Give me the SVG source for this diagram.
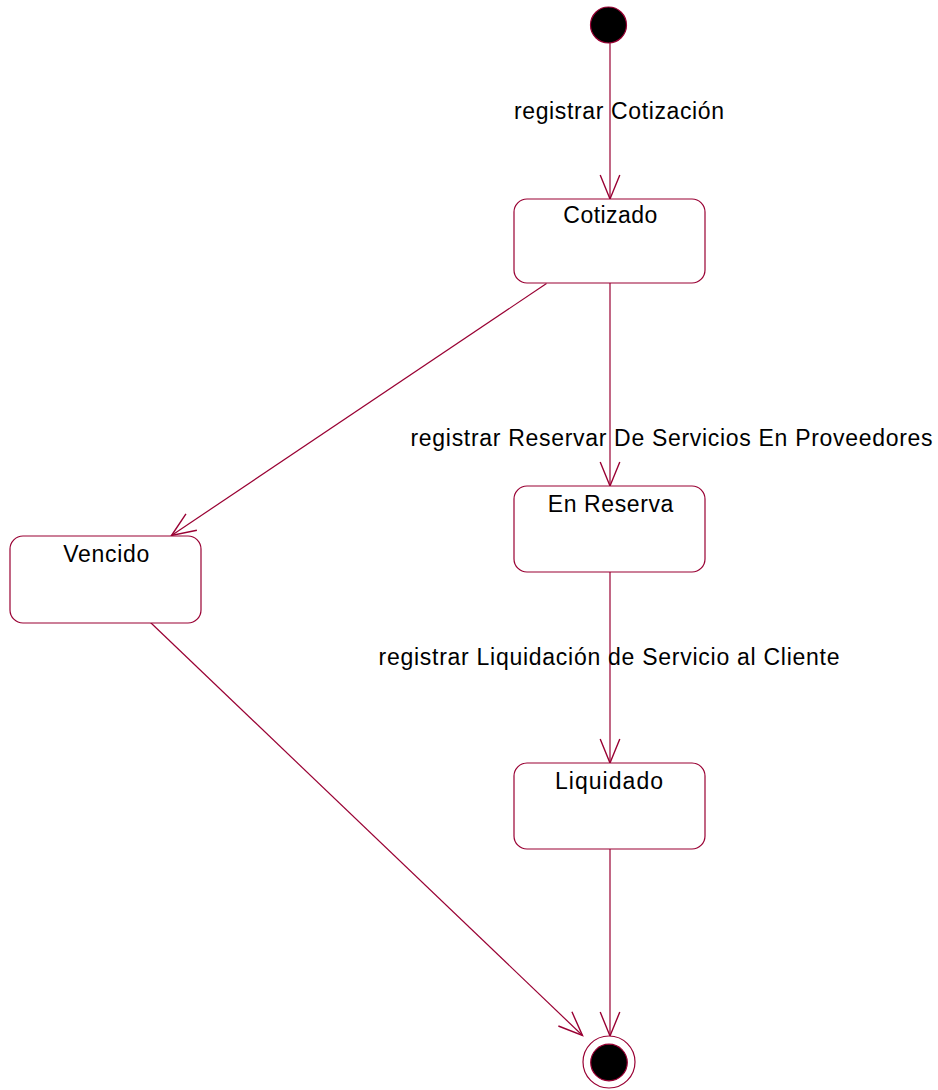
<svg xmlns="http://www.w3.org/2000/svg" width="938" height="1090" viewBox="0 0 938 1090">
<style>
.st{fill:#ffffff;stroke:#990033;stroke-width:1.2}
.ln{fill:none;stroke:#990033;stroke-width:1.2}
.t{font-family:"Liberation Sans",Arial,sans-serif;font-size:23px;fill:#000000}
</style>
<defs>
<marker id="open" markerUnits="userSpaceOnUse" orient="auto" markerWidth="40" markerHeight="30" refX="0" refY="0" viewBox="-30 -15 40 30" overflow="visible">
<path d="M -24 -9.8 L 0 0 L -24 9.8" fill="none" stroke="#990033" stroke-width="1.4"/>
</marker>
</defs>
<rect width="938" height="1090" fill="#ffffff"/>
<g id="connectors">
<line class="ln" x1="610" y1="43" x2="610" y2="199" marker-end="url(#open)"/>
<line class="ln" x1="610" y1="283" x2="610" y2="486" marker-end="url(#open)"/>
<line class="ln" x1="546.5" y1="283.5" x2="171.5" y2="535.5" marker-end="url(#open)"/>
<line class="ln" x1="610" y1="572" x2="610" y2="763" marker-end="url(#open)"/>
<line class="ln" x1="150.5" y1="622.5" x2="582.5" y2="1035.5" marker-end="url(#open)"/>
<line class="ln" x1="610" y1="849" x2="610" y2="1036" marker-end="url(#open)"/>
<text class="t" x="514" y="119" textLength="210" lengthAdjust="spacing">registrar Cotización</text>
<text class="t" x="410.5" y="446" textLength="522" lengthAdjust="spacing">registrar Reservar De Servicios En Proveedores</text>
<text class="t" x="378.5" y="665" textLength="461" lengthAdjust="spacing">registrar Liquidación de Servicio al Cliente</text>
</g>
<g id="initial">
<circle cx="608.5" cy="25" r="18" fill="#000000" stroke="#990033" stroke-width="1.2"/>
</g>
<g id="cotizado">
<rect class="st" x="514" y="199" width="191" height="84" rx="13" ry="13"/>
<text class="t" x="563.3" y="222.5" textLength="94" lengthAdjust="spacing">Cotizado</text>
</g>
<g id="enreserva">
<rect class="st" x="514" y="486" width="191" height="86" rx="13" ry="13"/>
<text class="t" x="547.7" y="512" textLength="125.6" lengthAdjust="spacing">En Reserva</text>
</g>
<g id="vencido">
<rect class="st" x="10" y="536" width="191" height="87" rx="13" ry="13"/>
<text class="t" x="63.3" y="562" textLength="86" lengthAdjust="spacing">Vencido</text>
</g>
<g id="liquidado">
<rect class="st" x="514" y="763" width="191" height="86" rx="13" ry="13"/>
<text class="t" x="555" y="789" textLength="108" lengthAdjust="spacing">Liquidado</text>
</g>
<g id="final">
<circle cx="609" cy="1062" r="26" fill="#ffffff" stroke="#990033" stroke-width="1.2"/>
<circle cx="609" cy="1062.5" r="18.3" fill="#000000" stroke="#990033" stroke-width="1.2"/>
</g>
</svg>
